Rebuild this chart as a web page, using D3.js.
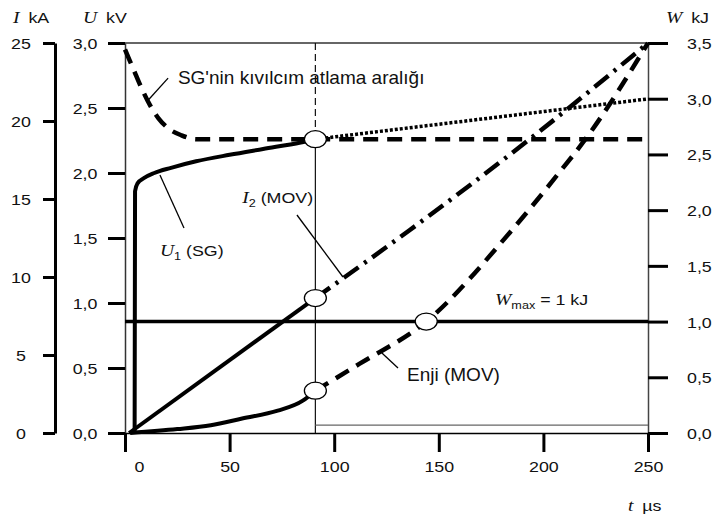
<!DOCTYPE html>
<html><head><meta charset="utf-8">
<script src="https://cdn.jsdelivr.net/npm/d3@7"></script>
<style>body{margin:0;background:#fff} svg{display:block}</style>
</head><body><svg id="c" width="713" height="516"></svg>
<script>
// ---- data ----
const tTicks = [0, 50, 100, 150, 200, 250];
const uTicks = [0, 0.5, 1, 1.5, 2, 2.5, 3];
const iTicks = [0, 5, 10, 15, 20, 25];
const wTicks = [0, 0.5, 1, 1.5, 2, 2.5, 3, 3.5];

// U1 (SG) voltage, kV
const u1T = [4.6, 4.8, 6, 9, 14, 22, 34, 50, 66, 84, 91];
const u1V = [0, 1.86, 1.92, 1.96, 2.0, 2.04, 2.09, 2.14, 2.185, 2.235, 2.26];
const u1ExtT = [91, 250];
const u1ExtV = [2.26, 2.57];
// SG spark-over level, kV
const sgT = [0, 4, 8, 12, 16, 21, 27, 34, 250];
const sgV = [2.95, 2.8, 2.65, 2.52, 2.42, 2.34, 2.29, 2.26, 2.26];
// I2 (MOV) current, kA
const i2T = [2, 91];
const i2V = [0, 8.65];
const i2ExtT = [91, 136, 195, 250];
const i2ExtV = [8.65, 13, 19, 25];
// Energy (MOV), kJ
const eT = [2.5, 25, 41, 56, 73, 85, 91];
const eV = [0, 0.035, 0.07, 0.13, 0.2, 0.29, 0.38];
const eExtT = [91, 112, 144, 184, 206, 221, 250];
const eExtV = [0.38, 0.62, 1.0, 1.8, 2.3, 2.66, 3.5];
const wMax = 1.0;
const tMark = 91;
const baseT = [91, 250];
const baseW = 0.07;
const markT = [91, 91, 91, 144];
const markV = [2.26, 8.65, 0.38, 1.0];
const markS = ["U", "I", "W", "W"];

// ---- setup ----
const svg = d3.select("#c");
const SX = 1.15;
const SANS = "'Liberation Sans', Arial, sans-serif";
const SERIF = "'Liberation Serif', 'Times New Roman', serif";
const x = d3.scaleLinear().domain([0, 250]).range([125, 648]);
const yU = d3.scaleLinear().domain([0, 3]).range([433, 43]);
const yI = d3.scaleLinear().domain([0, 25]).range([433, 43]);
const yW = d3.scaleLinear().domain([0, 3.5]).range([433, 43]);
const scales = {U: yU, I: yI, W: yW};
const fmt1 = d => d3.format(".1f")(d).replace(".", ",");

function styleAxis(g, domW, domC, anchor, tx, ty) {
  g.select(".domain").attr("stroke", domC).attr("stroke-width", domW);
  g.selectAll(".tick line").attr("stroke", "#000").attr("stroke-width", 3);
  g.selectAll(".tick text")
    .attr("font-family", SANS).attr("font-size", 15.5).attr("fill", "#111")
    .attr("text-anchor", anchor)
    .attr("x", tx / SX).attr("y", ty).attr("dy", "0.35em")
    .attr("transform", `scale(${SX},1)`);
}

// I axis
const gI = svg.append("g").attr("transform", "translate(55,0)")
  .call(d3.axisLeft(yI).tickValues(iTicks).tickSize(12).tickSizeOuter(0).tickFormat(d3.format("d")));
styleAxis(gI, 3, "#000", "middle", -34, 0);
// U axis
const gU = svg.append("g").attr("transform", "translate(125,0)")
  .call(d3.axisLeft(yU).tickValues(uTicks).tickSize(17).tickSizeOuter(0).tickFormat(fmt1));
styleAxis(gU, 1.5, "#333", "middle", -40, 0);
// W axis
const gW = svg.append("g").attr("transform", "translate(648,0)")
  .call(d3.axisRight(yW).tickValues(wTicks).tickSize(20).tickSizeOuter(0).tickFormat(fmt1));
styleAxis(gW, 1.5, "#444", "start", 39, 0);
// t axis
const gX = svg.append("g").attr("transform", "translate(0,433)")
  .call(d3.axisBottom(x).tickValues(tTicks).tickSize(19).tickSizeOuter(0).tickFormat(d3.format("d")));
styleAxis(gX, 1.5, "#000", "middle", 0, 34);
gX.selectAll(".tick text").filter(d => d === 0).attr("x", 14 / SX);

// top border
svg.append("line").attr("x1", x(0)).attr("x2", x(250)).attr("y1", yU(3)).attr("y2", yU(3))
  .attr("stroke", "#333").attr("stroke-width", 1.5);

// vertical marker line
svg.append("line").attr("x1", x(tMark)).attr("x2", x(tMark)).attr("y1", yU(3)).attr("y2", yU(u1ExtV[0]))
  .attr("stroke", "#111").attr("stroke-width", 1.2).attr("stroke-dasharray", "7,4");
svg.append("line").attr("x1", x(tMark)).attr("x2", x(tMark)).attr("y1", yU(u1ExtV[0])).attr("y2", yU(0))
  .attr("stroke", "#111").attr("stroke-width", 1.2);
// thin base line
svg.append("line").attr("x1", x(baseT[0])).attr("x2", x(baseT[1])).attr("y1", yW(baseW)).attr("y2", yW(baseW))
  .attr("stroke", "#666").attr("stroke-width", 1.3);

// Wmax line
svg.append("line").attr("x1", x(0)).attr("x2", x(250)).attr("y1", yW(wMax)).attr("y2", yW(wMax))
  .attr("stroke", "#000").attr("stroke-width", 3.5);

function curve(ts, vs, ys, dash, w) {
  const pts = ts.map((t, i) => [x(t), ys(vs[i])]);
  svg.append("path").attr("d", d3.line().curve(d3.curveMonotoneX)(pts))
    .attr("fill", "none").attr("stroke", "#000").attr("stroke-width", w)
    .attr("stroke-dasharray", dash || null).attr("stroke-linejoin", "round");
}
curve(sgT, sgV, yU, "15,9", 4.5);
curve(u1T, u1V, yU, null, 4);
curve(u1ExtT, u1ExtV, yU, "3,2", 3.5);
curve(i2T, i2V, yI, null, 4);
curve(i2ExtT, i2ExtV, yI, "18,7,3,7", 4.5);
curve(eT, eV, yW, null, 4);
curve(eExtT, eExtV, yW, "15,9", 4.5);

// markers
markT.forEach((t, i) => {
  svg.append("ellipse").attr("cx", x(t)).attr("cy", scales[markS[i]](markV[i]))
    .attr("rx", 11).attr("ry", 8.5).attr("fill", "#fff").attr("stroke", "#000").attr("stroke-width", 1.3);
});

// pointer lines (data coords t, U)
function pointer(t1, u1, t2, u2) {
  svg.append("line").attr("x1", x(t1)).attr("y1", yU(u1)).attr("x2", x(t2)).attr("y2", yU(u2))
    .attr("stroke", "#000").attr("stroke-width", 1.3);
}
pointer(20.6, 2.73, 10.5, 2.55);
pointer(16.7, 1.985, 28.2, 1.577);
pointer(82.2, 1.677, 104.2, 1.2);
pointer(122.8, 0.615, 130.5, 0.5);

// text helpers
function stext(px, py, parts, size) {
  const t = svg.append("text").attr("transform", `translate(${px},${py}) scale(${SX},1)`)
    .attr("font-family", SANS).attr("font-size", size || 15.5).attr("fill", "#111");
  parts.forEach(p => {
    const s = t.append("tspan").text(p.s);
    if (p.it) s.attr("font-family", SERIF).attr("font-style", "italic").attr("font-size", p.fs || 17);
    if (p.fs && !p.it) s.attr("font-size", p.fs);
    if (p.dy) s.attr("dy", p.dy);
  });
  return t;
}
// axis titles
stext(13, 23, [{s: "I", it: true}, {s: "\u2002kA"}]);
stext(83, 23, [{s: "U", it: true}, {s: "\u2002kV"}]);
stext(666, 23, [{s: "W", it: true}, {s: "\u2002kJ"}]);
stext(628, 511, [{s: "t", it: true}, {s: "\u2002\u00b5s"}]);

// curve labels
svg.append("text").attr("x", x(25.3)).attr("y", yU(2.685))
  .attr("font-family", SANS).attr("font-size", 19).attr("fill", "#111")
  .text("SG'nin k\u0131v\u0131lc\u0131m atlama aral\u0131\u011f\u0131");
svg.append("text").attr("x", x(134.8)).attr("y", yU(0.4))
  .attr("font-family", SANS).attr("font-size", 19).attr("fill", "#111")
  .text("Enji (MOV)");
stext(x(16.7), yU(1.36), [{s: "U", it: true}, {s: "1", fs: 11, dy: 4}, {s: " (SG)", dy: -4}]);
stext(x(56), yU(1.77), [{s: "I", it: true}, {s: "2", fs: 11, dy: 4}, {s: " (MOV)", dy: -4}]);
stext(x(176.9), yU(0.985), [{s: "W", it: true}, {s: "max", fs: 11, dy: 4}, {s: " = 1 kJ", dy: -4}]);
</script></body></html>
